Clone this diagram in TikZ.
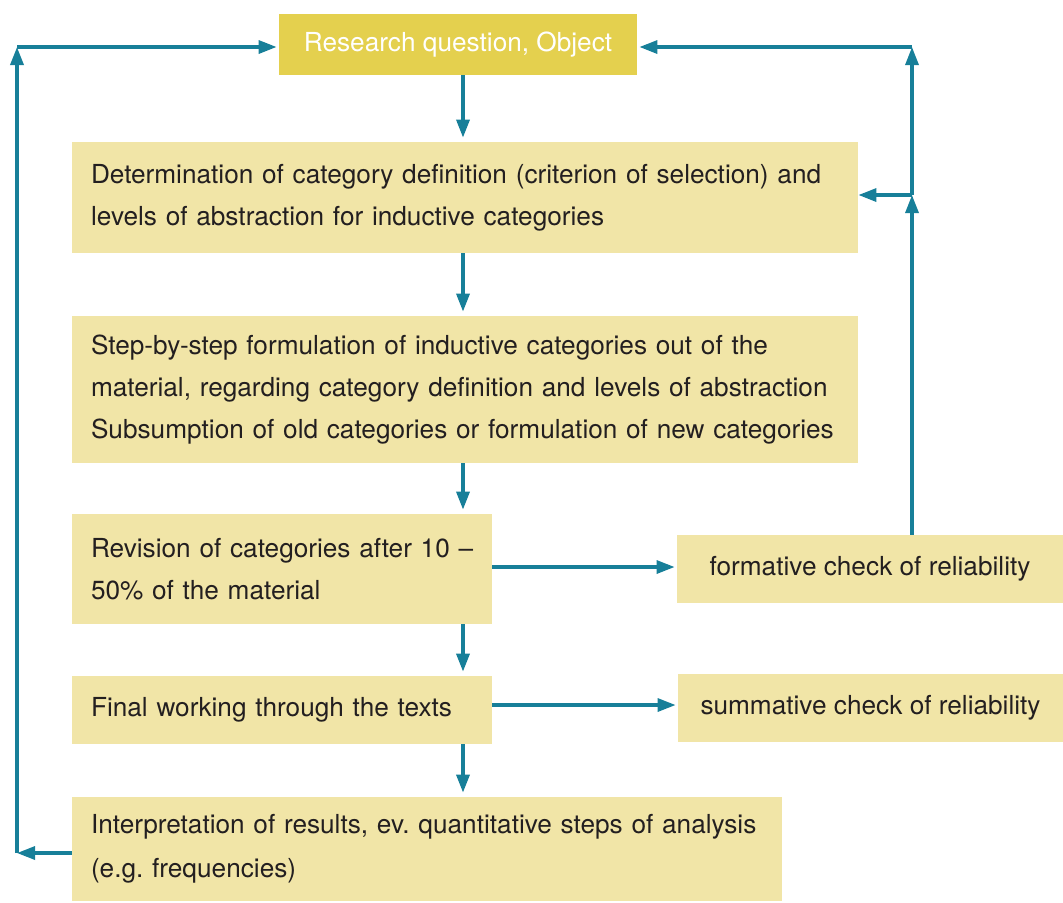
\documentclass[tikz,border=0pt]{standalone}
\usepackage{fontspec}
\setmainfont{TeX Gyre Heros}
\usetikzlibrary{calc, arrows.meta}
\definecolor{teal1}{HTML}{177F99}
\definecolor{gold1}{HTML}{E4D04E}
\definecolor{pale1}{HTML}{F1E5A7}
\definecolor{ink1}{HTML}{231F20}
\tikzset{>={Triangle[length=9pt,width=6.5pt]},
  box/.style={fill=pale1, text=ink1, inner xsep=9.5pt, inner ysep=0pt, align=left, font=\fontsize{13.1}{21}\selectfont\frenchspacing},
  check/.style={box, align=center},
  flow/.style={teal1, line width=1.65pt, ->, shorten >=1pt}}

\begin{document}
\begin{tikzpicture}[x=0.5pt,y=-0.5pt]
\useasboundingbox (0,0) rectangle (1063,902);
\node[box, fill=gold1, text=white, align=center, minimum width=179pt, minimum height=30.5pt] (b1) at (458,44.5) {Research question, Object};
\node[box, text width=374pt, minimum height=55.5pt] (b2) at (465,197.5) {Determination of category definition (criterion of selection) and\\levels of abstraction for inductive categories};
\node[box, text width=374pt, minimum height=73.5pt] (b3) at (465,389.5) {Step-by-step formulation of inductive categories out of the\\material, regarding category definition and levels of abstraction\\Subsumption of old categories or formulation of new categories};
\node[box, text width=191pt, minimum height=55pt] (b4) at (282,569) {\mbox{Revision of categories after 10 --}\\50\% of the material};
\node[check, minimum width=193pt, minimum height=34pt] (b5) at (870,569) {formative check of reliability};
\node[box, text width=191pt, minimum height=34pt] (b6) at (282,710) {Final working through the texts};
\node[check, minimum width=192.5pt, minimum height=34pt] (b7) at (870.5,708) {summative check of reliability};
\node[box, text width=336pt, minimum height=52pt, font=\fontsize{13.1}{22}\selectfont\frenchspacing] (b8) at (427,849) {Interpretation of results, ev. quantitative steps of analysis\\(e.g. frequencies)};
\coordinate (ax) at (463,0);
\coordinate (lb) at (17,853);
\coordinate (lt) at (17,47);
\coordinate (rm) at (912,195);
\coordinate (rt) at (912,47);
\draw[flow, shorten >=2pt] (b1.south -| ax) -- (b2.north -| ax);
\draw[flow, shorten >=2pt] (b2.south -| ax) -- (b3.north -| ax);
\draw[flow, shorten >=2pt] (b3.south -| ax) -- (b4.north -| ax);
\draw[flow, shorten >=2pt] (b4.south -| ax) -- (b6.north -| ax);
\draw[flow, shorten >=2pt] (b6.south -| ax) -- (b8.north -| ax);
\draw[flow] ($(b4.east)+(0,-2)$) -- ($(b5.west)+(0,-2)$);
\draw[flow] ($(b6.east)+(0,-5)$) -- ($(b7.west |- b6.east)+(0,-5)$);
\draw[flow, shorten >=0pt] (b8.west |- lb) -- (lb);
\draw[flow, shorten >=0pt] (lb) -- (lt);
\draw[flow] (lt) -- (b1.west |- lt);
\draw[flow, shorten >=0pt] (rm |- b5.north) -- (rm);
\draw[flow, shorten >=0pt] (rm) -- (rt);
\draw[flow, shorten >=0pt] (rm) -- (b2.east |- rm);
\draw[flow] (rt) -- (b1.east |- rt);
\end{tikzpicture}
\end{document}
